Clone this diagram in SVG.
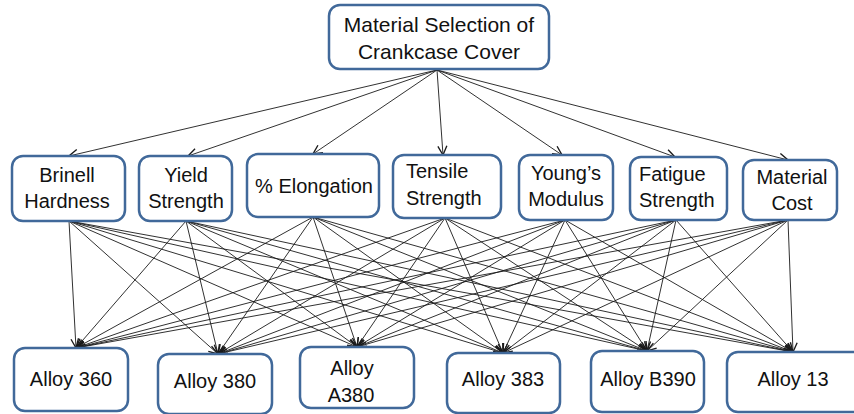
<svg xmlns="http://www.w3.org/2000/svg" width="854" height="414" viewBox="0 0 854 414">
  <style>
    .box { fill: #ffffff; stroke: #41699a; stroke-width: 2.5; }
    .lbl { font-family: "Liberation Sans", Arial, sans-serif; font-size: 20px; fill: #111111; text-anchor: middle; }
    .lbl-l { font-family: "Liberation Sans", Arial, sans-serif; font-size: 20px; fill: #111111; }
    .title { font-size: 21px; }
    .edge { stroke: #1a1a1a; stroke-width: 0.9; fill: none; marker-end: url(#arrow); }
  </style>
  <defs>
    <marker id="arrow" markerUnits="userSpaceOnUse" markerWidth="12" markerHeight="12" viewBox="-7 -4 8 8" refX="0" refY="0" orient="auto">
      <path d="M-6,-3 L0,0 L-6,3" fill="none" stroke="#1a1a1a" stroke-width="0.9"/>
    </marker>
  </defs>

  <!-- connectors -->
  <g id="connectors">
    <!-- goal to criteria -->
    <line class="edge" x1="437" y1="70" x2="69" y2="156"/>
    <line class="edge" x1="437" y1="70" x2="188" y2="156"/>
    <line class="edge" x1="437" y1="70" x2="313" y2="154"/>
    <line class="edge" x1="437" y1="70" x2="443" y2="155"/>
    <line class="edge" x1="437" y1="70" x2="562" y2="155"/>
    <line class="edge" x1="437" y1="70" x2="675" y2="157"/>
    <line class="edge" x1="437" y1="70" x2="788" y2="160"/>

    <!-- Brinell Hardness to alloys -->
    <line class="edge" x1="69" y1="221" x2="76" y2="348"/>
    <line class="edge" x1="69" y1="221" x2="218" y2="354"/>
    <line class="edge" x1="69" y1="221" x2="357" y2="347"/>
    <line class="edge" x1="69" y1="221" x2="503" y2="353"/>
    <line class="edge" x1="69" y1="221" x2="647" y2="351"/>
    <line class="edge" x1="69" y1="221" x2="793" y2="352"/>
    <!-- Yield Strength to alloys -->
    <line class="edge" x1="186" y1="221" x2="76" y2="348"/>
    <line class="edge" x1="186" y1="221" x2="218" y2="354"/>
    <line class="edge" x1="186" y1="221" x2="357" y2="347"/>
    <line class="edge" x1="186" y1="221" x2="503" y2="353"/>
    <line class="edge" x1="186" y1="221" x2="647" y2="351"/>
    <line class="edge" x1="186" y1="221" x2="793" y2="352"/>
    <!-- % Elongation to alloys -->
    <line class="edge" x1="313" y1="217" x2="76" y2="348"/>
    <line class="edge" x1="313" y1="217" x2="218" y2="354"/>
    <line class="edge" x1="313" y1="217" x2="357" y2="347"/>
    <line class="edge" x1="313" y1="217" x2="503" y2="353"/>
    <line class="edge" x1="313" y1="217" x2="647" y2="351"/>
    <line class="edge" x1="313" y1="217" x2="793" y2="352"/>
    <!-- Tensile Strength to alloys -->
    <line class="edge" x1="445" y1="218" x2="76" y2="348"/>
    <line class="edge" x1="445" y1="218" x2="218" y2="354"/>
    <line class="edge" x1="445" y1="218" x2="357" y2="347"/>
    <line class="edge" x1="445" y1="218" x2="503" y2="353"/>
    <line class="edge" x1="445" y1="218" x2="647" y2="351"/>
    <line class="edge" x1="445" y1="218" x2="793" y2="352"/>
    <!-- Young's Modulus to alloys -->
    <line class="edge" x1="565" y1="220" x2="76" y2="348"/>
    <line class="edge" x1="565" y1="220" x2="218" y2="354"/>
    <line class="edge" x1="565" y1="220" x2="357" y2="347"/>
    <line class="edge" x1="565" y1="220" x2="503" y2="353"/>
    <line class="edge" x1="565" y1="220" x2="647" y2="351"/>
    <line class="edge" x1="565" y1="220" x2="793" y2="352"/>
    <!-- Fatigue Strength to alloys -->
    <line class="edge" x1="676" y1="220" x2="76" y2="348"/>
    <line class="edge" x1="676" y1="220" x2="218" y2="354"/>
    <line class="edge" x1="676" y1="220" x2="357" y2="347"/>
    <line class="edge" x1="676" y1="220" x2="503" y2="353"/>
    <line class="edge" x1="676" y1="220" x2="647" y2="351"/>
    <line class="edge" x1="676" y1="220" x2="793" y2="352"/>
    <!-- Material Cost to alloys -->
    <line class="edge" x1="788" y1="220" x2="76" y2="348"/>
    <line class="edge" x1="788" y1="220" x2="218" y2="354"/>
    <line class="edge" x1="788" y1="220" x2="357" y2="347"/>
    <line class="edge" x1="788" y1="220" x2="503" y2="353"/>
    <line class="edge" x1="788" y1="220" x2="647" y2="351"/>
    <line class="edge" x1="788" y1="220" x2="793" y2="352"/>
  </g>

  <!-- goal -->
  <g id="goal">
    <rect class="box" x="329" y="5" width="220" height="64" rx="11"/>
    <text class="lbl title" x="439" y="32">Material Selection of</text>
    <text class="lbl title" x="439" y="59">Crankcase Cover</text>
  </g>

  <!-- criteria -->
  <g id="brinell-hardness">
    <rect class="box" x="12" y="156" width="113" height="65" rx="11"/>
    <text class="lbl" x="67" y="182">Brinell</text>
    <text class="lbl" x="67" y="208">Hardness</text>
  </g>
  <g id="yield-strength">
    <rect class="box" x="139" y="156" width="93" height="65" rx="11"/>
    <text class="lbl" x="186" y="182">Yield</text>
    <text class="lbl" x="186" y="208">Strength</text>
  </g>
  <g id="elongation">
    <rect class="box" x="247" y="154" width="132" height="63" rx="11"/>
    <text class="lbl" x="314" y="193">% Elongation</text>
  </g>
  <g id="tensile-strength">
    <rect class="box" x="393" y="155" width="108" height="63" rx="11"/>
    <text class="lbl-l" x="406" y="178">Tensile</text>
    <text class="lbl-l" x="406" y="205">Strength</text>
  </g>
  <g id="youngs-modulus">
    <rect class="box" x="519" y="155" width="94" height="65" rx="11"/>
    <text class="lbl" x="566" y="180">Young’s</text>
    <text class="lbl" x="566" y="206">Modulus</text>
  </g>
  <g id="fatigue-strength">
    <rect class="box" x="630" y="157" width="97" height="63" rx="11"/>
    <text class="lbl-l" x="639" y="181">Fatigue</text>
    <text class="lbl-l" x="639" y="207">Strength</text>
  </g>
  <g id="material-cost">
    <rect class="box" x="743" y="160" width="94" height="60" rx="11"/>
    <text class="lbl" x="792" y="184">Material</text>
    <text class="lbl" x="792" y="210">Cost</text>
  </g>

  <!-- alternatives -->
  <g id="alloy-360">
    <rect class="box" x="14" y="348" width="114" height="63" rx="11"/>
    <text class="lbl" x="71" y="386">Alloy 360</text>
  </g>
  <g id="alloy-380">
    <rect class="box" x="158" y="354" width="114" height="60" rx="11"/>
    <text class="lbl" x="215" y="388">Alloy 380</text>
  </g>
  <g id="alloy-a380">
    <rect class="box" x="300" y="347" width="114" height="61" rx="11"/>
    <text class="lbl" x="352" y="375">Alloy</text>
    <text class="lbl" x="351" y="402">A380</text>
  </g>
  <g id="alloy-383">
    <rect class="box" x="447" y="353" width="113" height="60" rx="11"/>
    <text class="lbl" x="503" y="386">Alloy 383</text>
  </g>
  <g id="alloy-b390">
    <rect class="box" x="591" y="351" width="113" height="61" rx="11"/>
    <text class="lbl" x="648" y="386">Alloy B390</text>
  </g>
  <g id="alloy-13">
    <rect class="box" x="727" y="352" width="140" height="60" rx="11"/>
    <text class="lbl" x="793" y="386">Alloy 13</text>
  </g>
</svg>
